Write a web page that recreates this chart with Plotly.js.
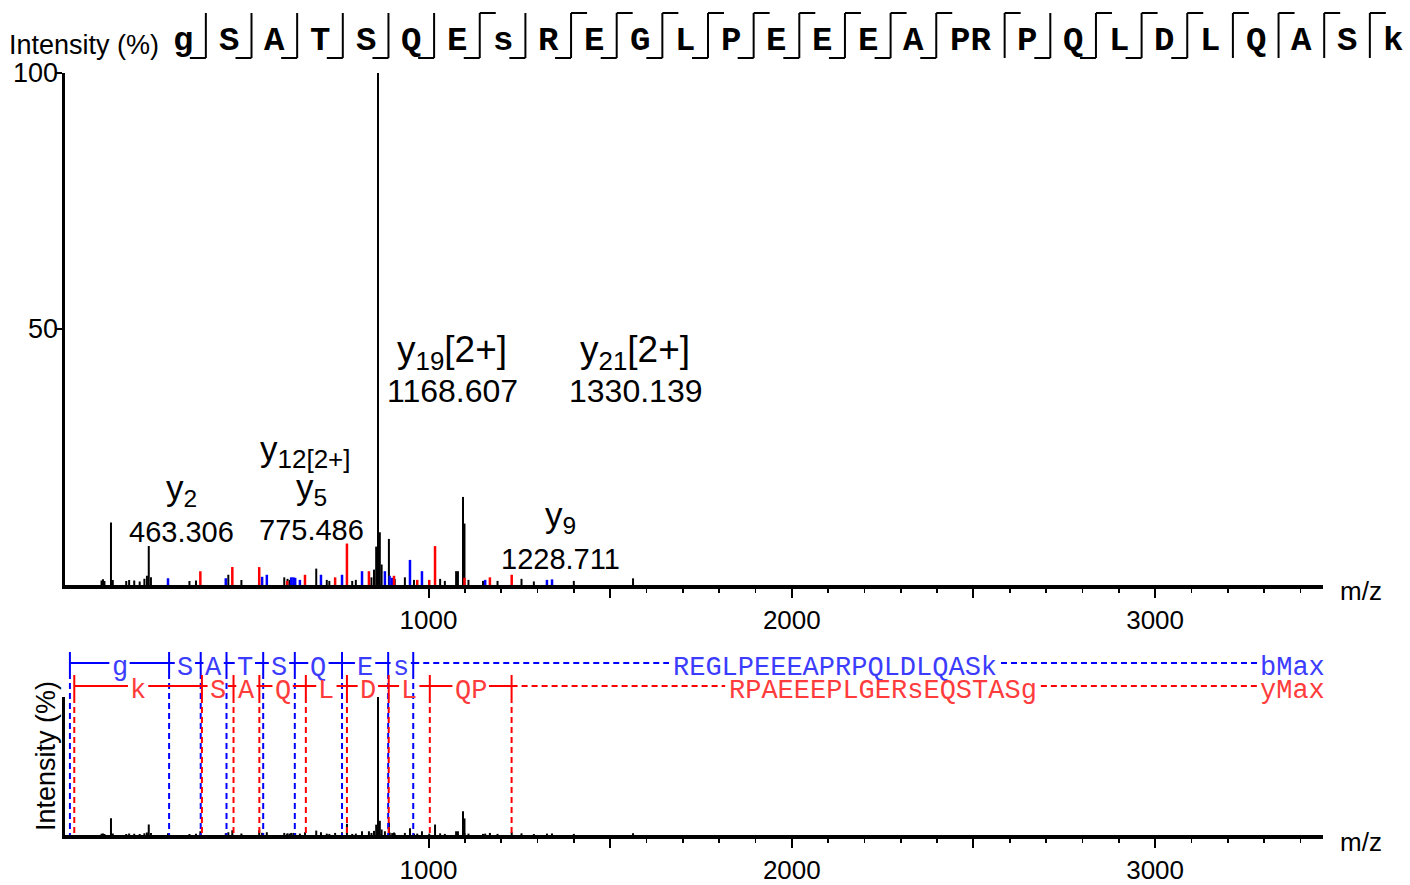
<!DOCTYPE html>
<html><head><meta charset="utf-8">
<script src="https://cdn.plot.ly/plotly-3.0.1.min.js"></script>
<style>html,body{margin:0;padding:0;background:#fff;overflow:hidden}</style>
</head><body><div id="chart" style="width:1410px;height:885px"></div>
<script>
// ---------------- data ----------------
const sequence = ['g','S','A','T','S','Q','E','s','R','E','G','L','P','E','E','E','A','PR','P','Q','L','D','L','Q','A','S','k'];
// matched fragment markers for each boundary between residues (26 boundaries)
const bMarked = [1,1,1,1,1,1,1,1,1,1,1,1,1,1,1,1,1,0,1,1,1,1,0,0,0,0];
const yMarked = [0,0,0,0,0,0,1,0,1,1,1,1,1,1,1,1,1,1,0,1,1,1,1,1,1,1];

const blackMz  = [100,104,108,126,131,168,176,190,205,218,225,230,236,342,360,449,485,603,612,618,691,720,727,790,800,843,850,856,861,866,871,891,907,935,960,1032,1045,1076,1081,1095,1099,1110,1150,1190,1256,1290,1400,1563];
const blackInt = [0.9,1.1,0.8,12.2,1.0,0.8,1.0,0.9,0.7,1.2,1.8,7.6,1.5,0.8,0.9,2.0,1.0,1.5,1.2,1.0,3.2,1.0,0.8,0.8,1.0,1.5,3.0,7.5,100,10.3,4.0,9.0,1.2,1.5,1.0,1.2,0.8,2.7,2.7,17.2,12.0,1.0,0.8,0.8,1.2,0.7,0.8,1.3];

const yIonMz  = [372,460,534,611,660,743,775.5,836,905,969,1002,1018,1099,1169,1229];
const yIonInt = [2.7,3.5,3.5,0.8,2.0,1.5,8.1,2.7,1.8,1.0,1.0,7.6,1.4,1.5,2.0];

const bIonMz  = [283,442,542,555,622,628,633,646,704,762,817,880,893,900,949,982,1156,1326,1340];
const bIonInt = [1.3,1.3,1.6,2.0,1.5,1.5,1.4,1.0,2.0,2.0,2.7,2.7,1.8,1.4,4.9,2.7,1.0,1.0,1.1];

const bLadderMz  = [13,286,373,444,545,632,762,889,958];
const bLadderRes = ['g','S','A','T','S','Q','E','s'];
const bRemainder = 'REGLPEEEAPRPQLDLQASk';
const yLadderMz  = [25,376.3,463.3,534.4,662.4,775.5,890.5,1003.6,1228.7];
const yLadderRes = ['k','S','A','Q','L','D','L','QP'];
const yRemainder = 'RPAEEEPLGERsEQSTASg';

const yTickVals = [50, 100];
const yTickText = ['50', '100'];

const ionLabels = [
  {text:'y<sub>2</sub>', mz:319, inten:18.6, size:35},
  {text:'463.306', mz:321, inten:10.4, size:29},
  {text:'y<sub><span style="font-size:26px">12[2+]</span></sub>', mz:662, inten:26.0, size:35},
  {text:'y<sub>5</sub>', mz:677, inten:18.8, size:35},
  {text:'775.486', mz:679, inten:10.7, size:29},
  {text:'y<sub>19</sub>[2+]', mz:1065, inten:45.5, size:37},
  {text:'1168.607', mz:1067, inten:37.9, size:32},
  {text:'y<sub>21</sub>[2+]', mz:1568, inten:45.5, size:37},
  {text:'1330.139', mz:1571, inten:37.9, size:32},
  {text:'y<sub>9</sub>', mz:1362, inten:13.3, size:35},
  {text:'1228.711', mz:1362, inten:5.1, size:29}
];

// ---------------- geometry ----------------
const W = 1410, H = 885;
const X0 = 65.2, PX = 0.3633, XEND = 1323;
const XMAX = (XEND - X0) / PX;
const px = p => p / W;
const py = p => 1 - p / H;
const SANS = 'Liberation Sans, Arial, sans-serif';
const MONO = 'Liberation Mono, Courier New, monospace';
const BLUE = '#0000ff', RED = '#ff0000';
const BLUE_T = '#3c3cff', RED_T = '#ff3c3c';

function stems(mz, inten) {
  const x = [], y = [];
  for (let i = 0; i < mz.length; i++) { x.push(mz[i], mz[i], null); y.push(0, inten[i], null); }
  return {x, y};
}
const sb = stems(blackMz, blackInt), sr = stems(yIonMz, yIonInt), sbl = stems(bIonMz, bIonInt);
const allMz = blackMz.concat(yIonMz, bIonMz), allInt = blackInt.concat(yIonInt, bIonInt);
const sall = stems(allMz, allInt);

const traces = [
  {x: sb.x, y: sb.y, xaxis:'x', yaxis:'y', mode:'lines', line:{color:'#000', width:2}, hoverinfo:'skip'},
  {x: sbl.x, y: sbl.y, xaxis:'x', yaxis:'y', mode:'lines', line:{color:BLUE, width:2.5}, hoverinfo:'skip'},
  {x: sr.x, y: sr.y, xaxis:'x', yaxis:'y', mode:'lines', line:{color:RED, width:2.5}, hoverinfo:'skip'},
  {x: sall.x, y: sall.y, xaxis:'x2', yaxis:'y2', mode:'lines', line:{color:'#000', width:2}, hoverinfo:'skip'}
];

const minorVals = [];
for (let v = 1100; v < XMAX; v += 100) if (v % 500 !== 0) minorVals.push(v);

function xAxis(anchor) {
  return {
    domain:[px(X0), px(XEND)], range:[0, XMAX], anchor: anchor,
    showline:true, linecolor:'#000', linewidth:4, zeroline:false, showgrid:false,
    ticks:'outside', tickmode:'array', tickvals:[1000,1500,2000,2500,3000],
    ticktext:['1000','','2000','','3000'], ticklen:9, tickwidth:2, tickcolor:'#000',
    tickfont:{family:SANS, size:26, color:'#000'}, ticklabelstandoff:0,
    minor:{tickmode:'array', tickvals:minorVals, ticks:'outside', ticklen:4, tickwidth:1.5, tickcolor:'#000', showgrid:false},
    fixedrange:true
  };
}

const shapes = [];
const annotations = [];

// header sequence
let left = 160.2;
const bounds = [];
sequence.forEach((r, i) => {
  const w = r.length > 1 ? 68.4 : 45.65;
  const c = left + w / 2;
  annotations.push({xref:'paper', yref:'paper', x:px(c), y:py(41), text:'<b>'+r+'</b>', showarrow:false,
    xanchor:'center', yanchor:'middle', font:{family:MONO, size:34, color:'#000'}});
  left += w;
  if (i < sequence.length - 1) bounds.push(left);
});
bounds.forEach((b, i) => {
  const ln = {color:'#000', width:2};
  shapes.push({type:'line', xref:'paper', yref:'paper', x0:px(b), x1:px(b), y0:py(13), y1:py(58), line:ln});
  if (bMarked[i]) shapes.push({type:'line', xref:'paper', yref:'paper', x0:px(b-16), x1:px(b), y0:py(58), y1:py(58), line:ln});
  if (yMarked[i]) shapes.push({type:'line', xref:'paper', yref:'paper', x0:px(b), x1:px(b+16), y0:py(13), y1:py(13), line:ln});
});

// ladders
const CH = 16.3; // px per mono char
function ladder(mzs, res, rem, remCenter, maxText, rowY, tickTop, tickBot, lineCol, textCol) {
  const ln = {color:lineCol, width:2};
  const dl = {color:lineCol, width:2, dash:'6px,4px'};
  mzs.forEach(m => {
    shapes.push({type:'line', xref:'x2', yref:'paper', x0:m, x1:m, y0:py(tickTop), y1:py(tickBot), line:ln});
    shapes.push({type:'line', xref:'x2', yref:'paper', x0:m, x1:m, y0:py(tickBot), y1:py(835), line:dl});
  });
  for (let i = 0; i < res.length; i++) {
    const a = mzs[i], b = mzs[i+1], mid = (a + b) / 2;
    const half = (res[i].length * CH / 2 + 2) / PX;
    if (mid - half > a) shapes.push({type:'line', xref:'x2', yref:'paper', x0:a, x1:mid-half, y0:py(rowY), y1:py(rowY), line:ln});
    if (mid + half < b) shapes.push({type:'line', xref:'x2', yref:'paper', x0:mid+half, x1:b, y0:py(rowY), y1:py(rowY), line:ln});
    annotations.push({xref:'x2', yref:'paper', x:mid, y:py(rowY+5), text:res[i], showarrow:false,
      xanchor:'center', yanchor:'middle', font:{family:MONO, size:27, color:textCol}});
  }
  const lastPx = X0 + mzs[mzs.length-1] * PX;
  const remHalf = rem.length * CH / 2;
  const maxStart = 1327 - maxText.length * CH;
  shapes.push({type:'line', xref:'paper', yref:'paper', x0:px(lastPx), x1:px(remCenter-remHalf-3), y0:py(rowY), y1:py(rowY), line:dl});
  shapes.push({type:'line', xref:'paper', yref:'paper', x0:px(remCenter+remHalf+3), x1:px(maxStart-3), y0:py(rowY), y1:py(rowY), line:dl});
  annotations.push({xref:'paper', yref:'paper', x:px(remCenter), y:py(rowY+5), text:rem, showarrow:false,
    xanchor:'center', yanchor:'middle', font:{family:MONO, size:27, color:textCol}});
  annotations.push({xref:'paper', yref:'paper', x:px(1327), y:py(rowY+5), text:maxText, showarrow:false,
    xanchor:'right', yanchor:'middle', font:{family:MONO, size:27, color:textCol}});
}
ladder(bLadderMz, bLadderRes, bRemainder, 835, 'bMax', 663, 652, 673, BLUE, BLUE_T);
ladder(yLadderMz, yLadderRes, yRemainder, 883, 'yMax', 686, 675, 697, RED, RED_T);

// ion labels
ionLabels.forEach(l => {
  annotations.push({xref:'x', yref:'y', x:l.mz, y:l.inten, text:l.text, showarrow:false,
    xanchor:'center', yanchor:'middle', font:{family:SANS, size:l.size, color:'#000'}});
});

// y tick labels of the main panel, set against the tick marks
yTickVals.forEach((v, i) => {
  annotations.push({xref:'paper', yref:'y', x:px(60), y:v, text:yTickText[i], showarrow:false,
    xanchor:'right', yanchor:'middle', font:{family:SANS, size:27, color:'#000'}});
});

// titles
annotations.push({xref:'paper', yref:'paper', x:px(84), y:py(45), text:'Intensity (%)', showarrow:false,
  xanchor:'center', yanchor:'middle', font:{family:SANS, size:27, color:'#000'}});
annotations.push({xref:'paper', yref:'paper', x:px(46), y:py(756), text:'Intensity (%)', showarrow:false, textangle:-90,
  xanchor:'center', yanchor:'middle', font:{family:SANS, size:27, color:'#000'}});
annotations.push({xref:'paper', yref:'paper', x:px(1361), y:py(591), text:'m/z', showarrow:false,
  xanchor:'center', yanchor:'middle', font:{family:SANS, size:26, color:'#000'}});
annotations.push({xref:'paper', yref:'paper', x:px(1361), y:py(842), text:'m/z', showarrow:false,
  xanchor:'center', yanchor:'middle', font:{family:SANS, size:26, color:'#000'}});

const layout = {
  width:W, height:H, margin:{l:0, r:0, t:0, b:0}, showlegend:false,
  paper_bgcolor:'#fff', plot_bgcolor:'#fff',
  xaxis: xAxis('y'),
  yaxis: {domain:[py(585), py(73)], range:[0,100], anchor:'x', showline:true, linecolor:'#000', linewidth:3,
    zeroline:false, showgrid:false, ticks:'outside', tickmode:'array', tickvals:yTickVals,
    ticklen:6, tickwidth:2, tickcolor:'#000', showticklabels:false, fixedrange:true},
  xaxis2: xAxis('y2'),
  yaxis2: {domain:[py(835), py(697)], range:[0,100], anchor:'x2', showline:true, linecolor:'#000', linewidth:3,
    zeroline:false, showgrid:false, ticks:'', showticklabels:false, fixedrange:true},
  shapes: shapes,
  annotations: annotations
};

Plotly.newPlot('chart', traces, layout, {staticPlot:true, displayModeBar:false});
</script>
</body></html>
